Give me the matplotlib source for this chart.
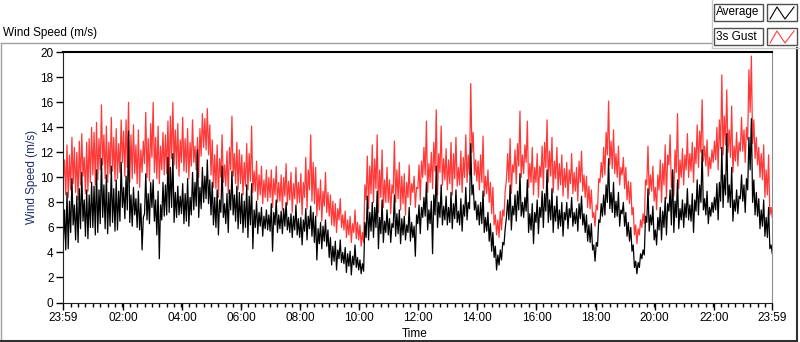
import numpy as np
import matplotlib
matplotlib.use("Agg")
import matplotlib.pyplot as plt
from matplotlib.lines import Line2D
from matplotlib.patches import Rectangle
from matplotlib.ticker import MultipleLocator

plt.rcParams["font.family"] = ["Liberation Sans", "DejaVu Sans"]

# 2.5-minute samples starting at 23:59, one row per hour (m/s)
gust = [
    9.8, 11.4, 8.6, 12.6, 8.4, 11.8, 9.0, 13.2, 9.5, 12.4, 8.8, 12.0, 8.2, 12.9, 9.4, 13.5, 10.1, 11.6, 8.7, 12.8, 8.9, 13.1, 9.6, 14.0,
    10.2, 13.6, 9.4, 14.4, 9.8, 13.1, 10.6, 15.8, 11.0, 13.4, 9.9, 14.1, 9.6, 12.8, 10.3, 14.8, 10.5, 13.2, 9.7, 13.9, 9.9, 12.7, 10.4, 14.6,
    11.2, 13.7, 10.1, 14.6, 10.8, 16.0, 9.6, 13.4, 9.9, 14.2, 10.3, 12.6, 9.5, 13.8, 9.2, 12.2, 10.4, 12.9, 11.1, 15.2, 10.0, 13.1, 9.7, 14.3,
    11.6, 16.0, 10.4, 13.2, 9.9, 14.1, 9.5, 12.5, 10.6, 13.6, 10.2, 13.4, 10.3, 14.5, 9.8, 14.9, 11.5, 16.0, 11.0, 13.8, 10.7, 14.3, 10.1, 13.0,
    11.2, 14.8, 10.5, 13.1, 10.4, 13.9, 9.9, 12.8, 10.9, 14.6, 11.2, 12.5, 10.6, 13.2, 10.0, 13.9, 11.7, 15.1, 12.4, 14.7, 12.2, 15.5, 11.8, 14.2,
    10.2, 13.0, 9.2, 11.8, 9.1, 12.6, 8.4, 11.5, 10.0, 13.4, 9.6, 11.0, 9.3, 12.1, 8.7, 12.4, 10.6, 14.9, 10.1, 11.9, 9.5, 12.8, 9.0, 12.2,
    9.5, 11.8, 8.6, 11.2, 9.3, 12.7, 9.0, 11.9, 9.7, 14.1, 8.8, 10.5, 8.9, 11.3, 8.2, 10.2, 8.6, 10.9, 7.9, 9.8, 8.4, 10.6, 8.1, 10.0,
    8.4, 10.6, 7.6, 9.9, 8.6, 10.9, 8.0, 9.6, 8.1, 10.2, 7.4, 10.0, 8.5, 11.1, 7.8, 9.7, 8.2, 10.4, 7.2, 9.5, 8.3, 10.8, 7.9, 9.6,
    8.0, 10.3, 7.0, 9.6, 8.4, 11.6, 7.5, 10.6, 9.0, 13.4, 8.1, 11.2, 7.9, 10.8, 6.9, 9.1, 7.4, 9.8, 6.5, 8.9, 7.7, 10.4, 7.2, 8.8,
    6.9, 8.6, 6.2, 8.1, 6.1, 7.9, 5.6, 7.5, 6.6, 8.3, 6.0, 7.0, 5.8, 7.3, 5.2, 6.6, 5.4, 6.9, 4.8, 6.3, 5.6, 7.4, 5.1, 6.4,
    5.0, 6.2, 4.5, 5.6, 4.8, 9.4, 8.2, 11.7, 7.5, 10.9, 8.7, 12.6, 8.0, 11.5, 9.1, 13.4, 7.2, 10.6, 8.4, 12.2, 7.6, 9.8, 8.0, 10.8,
    8.0, 9.8, 7.1, 9.4, 8.7, 12.9, 8.0, 10.6, 8.3, 11.2, 7.4, 10.1, 7.9, 10.3, 7.0, 9.6, 8.4, 11.0, 7.8, 9.5, 8.8, 10.1, 7.6, 9.2,
    9.1, 11.0, 8.2, 11.3, 10.0, 12.4, 10.2, 14.5, 8.8, 11.1, 9.6, 12.0, 9.1, 12.8, 10.5, 15.4, 8.6, 11.9, 10.4, 14.1, 9.4, 11.5, 9.8, 12.3,
    9.0, 11.4, 9.5, 12.8, 8.6, 11.9, 9.9, 13.2, 9.3, 10.8, 9.4, 12.1, 8.8, 11.6, 10.0, 13.4, 9.6, 11.8, 10.2, 17.5, 12.0, 13.6, 10.2, 11.4,
    9.7, 11.3, 9.0, 11.8, 9.6, 13.3, 8.5, 10.1, 8.7, 10.6, 8.0, 9.6, 7.1, 9.2, 6.2, 7.0, 5.4, 6.6, 5.2, 7.3, 5.8, 7.4, 6.9, 8.9,
    9.8, 11.9, 9.6, 13.1, 8.7, 11.0, 10.4, 12.2, 9.5, 12.7, 10.9, 15.3, 10.0, 11.8, 10.3, 12.6, 11.2, 14.5, 9.2, 11.1, 9.6, 12.4, 8.6, 10.8,
    9.6, 11.9, 8.4, 10.9, 10.0, 12.5, 9.1, 12.8, 10.8, 14.6, 9.6, 12.1, 10.1, 13.2, 8.8, 11.3, 9.9, 12.4, 9.0, 11.1, 9.4, 11.8, 8.5, 10.7,
    9.2, 11.2, 8.3, 10.6, 9.5, 11.9, 8.7, 10.4, 8.9, 10.8, 8.1, 11.3, 9.6, 12.1, 8.9, 10.2, 8.4, 10.1, 7.6, 9.3, 7.5, 9.0, 6.8, 7.2,
    6.1, 7.8, 7.4, 9.9, 9.6, 11.2, 10.0, 12.4, 10.2, 13.6, 11.8, 16.1, 11.0, 12.9, 10.7, 13.8, 10.3, 11.9, 10.0, 12.5, 9.4, 10.8, 10.2, 11.6,
    9.1, 10.8, 8.2, 9.7, 7.9, 9.6, 7.0, 7.6, 5.4, 6.2, 4.7, 5.9, 5.4, 6.6, 6.0, 7.1, 6.3, 9.8, 9.4, 12.5, 8.6, 10.2, 8.9, 10.9,
    8.1, 9.2, 7.4, 10.2, 9.0, 11.4, 8.0, 11.1, 9.4, 12.6, 8.3, 11.8, 11.0, 13.4, 9.2, 10.6, 8.5, 12.2, 10.4, 15.1, 9.1, 11.4, 10.0, 12.3,
    9.4, 11.8, 10.6, 13.5, 10.0, 11.9, 10.5, 12.8, 9.6, 12.4, 11.1, 14.2, 10.8, 13.7, 12.0, 16.2, 11.3, 12.5, 10.9, 13.0, 10.1, 11.6, 10.7, 12.2,
    11.2, 12.9, 11.4, 14.0, 10.6, 14.6, 12.3, 18.2, 11.8, 14.9, 12.6, 17.0, 12.0, 13.8, 11.6, 15.7, 10.4, 12.5, 11.3, 13.6, 10.9, 12.8, 12.1, 14.8,
    12.1, 13.8, 11.2, 14.0, 13.0, 18.6, 15.2, 19.7, 12.7, 14.6, 11.5, 13.2, 11.0, 12.4, 10.0, 11.9, 9.8, 12.6, 8.4, 10.6, 8.6, 11.8, 7.0, 7.6,
    6.8,
]
average = [
    4.6, 7.4, 4.2, 8.8, 4.3, 8.1, 5.6, 9.9, 6.2, 7.8, 5.0, 8.5, 4.8, 9.1, 5.9, 10.4, 6.5, 8.2, 5.3, 9.0, 5.1, 8.6, 6.0, 9.6,
    6.0, 9.3, 5.4, 10.6, 5.6, 9.0, 6.3, 11.5, 6.8, 9.4, 5.9, 10.2, 5.5, 8.8, 6.1, 10.9, 6.4, 9.1, 5.7, 9.8, 5.8, 8.9, 6.5, 11.2,
    7.6, 9.2, 6.7, 10.1, 7.4, 13.7, 6.4, 8.6, 6.1, 9.2, 7.0, 8.3, 6.0, 8.9, 5.8, 7.9, 4.2, 6.8, 7.1, 10.3, 6.6, 8.7, 6.3, 9.6,
    7.6, 9.8, 6.5, 8.2, 5.4, 8.9, 3.5, 7.8, 6.6, 9.6, 6.9, 9.4, 7.0, 11.6, 7.2, 10.8, 7.6, 11.9, 6.4, 8.8, 6.8, 9.3, 7.0, 8.5,
    7.1, 9.5, 6.3, 8.7, 6.5, 9.9, 6.1, 8.4, 7.0, 10.4, 7.4, 9.6, 7.7, 12.2, 6.8, 9.2, 7.5, 10.8, 8.0, 10.1, 8.3, 11.4, 7.9, 9.8,
    7.0, 9.6, 6.2, 8.4, 6.0, 9.0, 5.4, 8.2, 7.2, 10.9, 6.8, 7.9, 6.3, 8.7, 5.6, 9.0, 7.4, 10.5, 7.0, 8.6, 6.5, 9.3, 5.9, 8.8,
    6.3, 8.7, 5.6, 8.1, 6.0, 9.4, 5.2, 8.5, 6.2, 9.5, 4.3, 7.4, 6.0, 8.1, 5.5, 7.2, 6.1, 7.6, 5.3, 6.9, 5.9, 7.4, 5.8, 7.0,
    5.7, 7.9, 4.1, 7.2, 6.2, 8.2, 5.6, 7.0, 5.9, 7.3, 5.5, 7.5, 6.1, 8.0, 5.8, 6.8, 5.6, 7.1, 5.2, 6.9, 5.8, 7.8, 5.4, 6.7,
    5.2, 6.8, 4.6, 6.6, 5.7, 7.5, 5.0, 6.9, 5.9, 7.7, 5.3, 7.2, 4.8, 6.9, 3.4, 5.9, 4.7, 6.4, 4.3, 6.1, 4.9, 6.6, 4.5, 5.8,
    3.6, 5.2, 3.0, 4.5, 3.3, 4.9, 2.6, 4.2, 3.5, 5.0, 3.2, 4.0, 3.1, 4.4, 2.4, 3.9, 2.9, 4.1, 2.2, 3.7, 3.0, 4.6, 2.8, 3.6,
    2.6, 3.4, 2.3, 3.1, 2.5, 6.4, 5.2, 8.5, 5.0, 7.2, 5.7, 8.0, 5.2, 7.6, 6.0, 8.9, 4.3, 6.8, 5.5, 8.2, 4.8, 6.5, 5.6, 7.4,
    5.4, 6.7, 4.8, 6.3, 6.0, 8.6, 5.3, 7.1, 5.5, 7.4, 4.7, 6.7, 5.4, 6.9, 5.0, 6.2, 5.6, 7.6, 4.9, 6.4, 5.2, 6.1, 3.7, 7.0,
    6.3, 7.8, 5.5, 7.6, 6.8, 8.4, 6.9, 9.6, 5.8, 7.4, 6.3, 8.1, 3.9, 8.6, 7.0, 10.9, 6.0, 8.0, 6.8, 9.4, 6.2, 7.7, 6.6, 8.5,
    6.2, 7.6, 6.4, 8.8, 5.9, 7.9, 6.7, 9.0, 6.4, 7.3, 6.2, 8.3, 5.7, 7.8, 6.9, 9.2, 6.6, 8.0, 7.5, 12.7, 8.6, 9.4, 7.4, 8.1,
    6.6, 7.8, 6.2, 8.0, 6.3, 8.9, 5.6, 6.8, 5.7, 7.2, 4.9, 6.3, 4.1, 5.6, 3.6, 4.5, 2.6, 3.8, 3.0, 4.2, 3.4, 4.8, 4.6, 5.9,
    6.8, 8.2, 6.6, 9.4, 5.8, 7.7, 7.0, 8.6, 6.5, 8.9, 7.4, 10.3, 6.9, 8.0, 6.8, 8.4, 7.3, 9.8, 5.6, 7.1, 5.8, 7.9, 4.7, 7.2,
    6.4, 8.2, 5.5, 7.6, 6.8, 8.9, 6.0, 8.7, 7.3, 10.6, 6.4, 8.2, 6.6, 9.1, 5.6, 7.7, 6.5, 8.5, 5.9, 7.4, 6.1, 8.0, 5.3, 7.2,
    6.6, 8.0, 5.9, 7.5, 6.8, 8.4, 6.1, 7.2, 6.3, 7.5, 5.7, 7.9, 6.7, 8.5, 6.2, 7.1, 5.6, 7.0, 4.9, 6.2, 4.8, 6.3, 4.2, 4.6,
    3.3, 4.8, 4.5, 6.6, 6.4, 7.9, 6.9, 8.6, 7.0, 9.4, 8.0, 11.5, 7.5, 8.8, 7.2, 9.6, 6.8, 8.1, 6.9, 8.8, 6.1, 7.4, 7.1, 8.0,
    6.1, 7.2, 5.3, 6.4, 4.9, 6.0, 4.1, 4.6, 2.8, 3.3, 2.3, 3.2, 2.8, 3.9, 3.5, 4.2, 3.8, 6.9, 6.4, 9.1, 5.7, 7.0, 6.2, 7.7,
    5.0, 5.8, 4.6, 6.8, 5.8, 7.6, 5.0, 7.3, 6.0, 8.4, 5.4, 7.9, 7.3, 9.0, 6.2, 10.6, 5.6, 8.1, 6.8, 9.8, 5.9, 7.5, 6.6, 8.2,
    6.0, 7.9, 6.8, 9.1, 6.6, 7.8, 6.5, 8.7, 5.6, 8.2, 7.3, 9.8, 7.0, 9.4, 8.0, 12.2, 7.4, 8.3, 7.0, 8.9, 6.3, 7.6, 6.9, 8.0,
    7.2, 8.4, 7.4, 9.5, 6.6, 9.6, 8.1, 12.4, 7.6, 10.2, 8.6, 13.5, 8.0, 9.4, 7.6, 10.8, 6.5, 8.2, 7.3, 9.0, 7.1, 8.5, 8.3, 10.2,
    8.1, 9.4, 7.2, 9.9, 9.0, 13.2, 10.6, 14.7, 8.0, 9.8, 7.0, 8.8, 6.9, 8.3, 5.9, 7.4, 6.1, 8.2, 5.3, 6.8, 5.2, 7.6, 4.3, 4.6,
    3.9,
]
assert len(gust) == len(average) == 577

tick_labels = ["23:59", "02:00", "04:00", "06:00", "08:00", "10:00", "12:00",
               "14:00", "16:00", "18:00", "20:00", "22:00", "23:59"]
series_names = ["Average", "3s Gust"]

W, H = 800, 342
fig = plt.figure(figsize=(W / 100, H / 100), dpi=100)

def fx(x):
    return x / W

def fy(y):
    return 1 - y / H

# plot area
ax = fig.add_axes([fx(63.3), fy(302.5), fx(772.3 - 63.3), (302.5 - 52.3) / H])
t = np.linspace(0, 24, len(gust))  # hours after 23:59
ax.plot(t, gust, color="#FF3838", lw=0.9)
ax.plot(t, average, color="black", lw=0.9)

ax.set_xlim(0, 24)
ax.set_ylim(0, 20)
tick_pos = [0] + [h + 1 / 60 for h in range(2, 24, 2)] + [24]
ax.set_xticks(tick_pos)
ax.set_xticklabels(tick_labels)
ax.xaxis.set_minor_locator(MultipleLocator(0.25))
ax.set_yticks(range(0, 21, 2))
ax.tick_params(axis="both", which="major", direction="out", length=5, width=1,
               labelsize=8.5, pad=2, colors="black")
ax.tick_params(axis="x", which="minor", direction="out", length=3, width=1)

for side in ["left", "bottom"]:
    ax.spines[side].set_color("#202020")
ax.spines["top"].set_color("black")
ax.spines["top"].set_linewidth(1.5)
ax.spines["right"].set_color("#8C8C8C")

# chart frame
def line(xs, ys, color, lw=1.0):
    fig.add_artist(Line2D([fx(x) for x in xs], [fy(y) for y in ys],
                          transform=fig.transFigure, color=color, lw=lw))

line([0.5, 712], [43, 43], "#A0A0A0")
line([0.5, 0.5], [43, 342], "#A0A0A0")
line([0, 797], [341, 341], "#303030", 1.5)
line([797, 797], [48, 341], "#303030", 1.5)
line([712, 712], [0, 48], "#C8C8C8")
line([712, 800], [48, 48], "#C8C8C8")

# legend
colors = ["black", "#FF4040"]
for i, (name, c) in enumerate(zip(series_names, colors)):
    y0 = 4 + i * 24
    fig.add_artist(Rectangle((fx(714), fy(y0 + 17)), fx(49), 17 / H,
                             transform=fig.transFigure, fill=False,
                             edgecolor="#505050", lw=1))
    fig.add_artist(Rectangle((fx(767), fy(y0 + 17)), fx(30), 17 / H,
                             transform=fig.transFigure, fill=False,
                             edgecolor="#505050", lw=1))
    fig.text(fx(716), fy(y0 + 8.5), name, fontsize=8.5, ha="left", va="center")
    line([770, 777, 785, 794], [y0 + 15, y0 + 3, y0 + 15, y0 + 3], c, 0.8)

fig.text(fx(3), fy(33), "Wind Speed (m/s)", fontsize=8.5, ha="left", va="center")
fig.text(fx(32), fy(177), "Wind Speed (m/s)", fontsize=8.5, rotation=90,
         ha="center", va="center", color="#1C2D6B")
fig.text(fx(415), fy(334), "Time", fontsize=8.5, ha="center", va="center")

fig.savefig("out.png", dpi=100)
